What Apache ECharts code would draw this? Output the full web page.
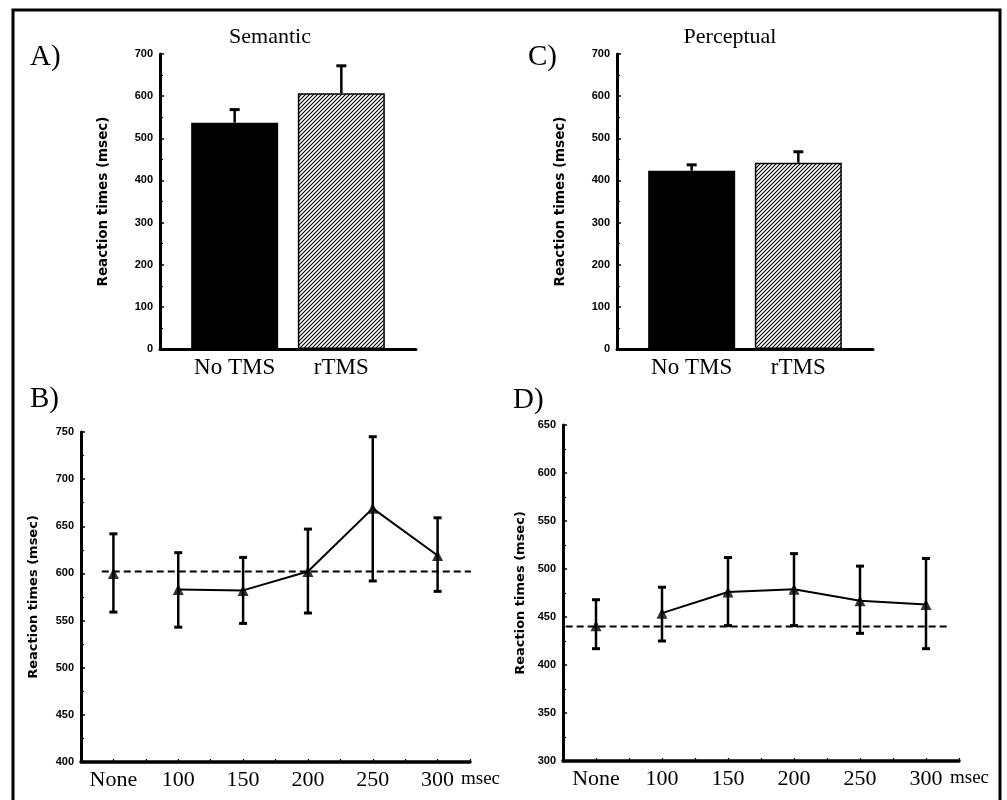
<!DOCTYPE html>
<html>
<head>
<meta charset="utf-8">
<script src="https://cdn.jsdelivr.net/npm/echarts@6/dist/echarts.min.js"></script>
<style>
  html, body { margin: 0; padding: 0; background: #fff; }
  #chart { width: 1007px; height: 800px; }
</style>
</head>
<body>
<div id="chart"></div>
<script>
// top panels: mean RT and upper error cap
var barCategories = ["No TMS", "rTMS"];
var semanticMeans = [537, 607];
var semanticCaps = [568, 672];
var perceptualMeans = [423, 442];
var perceptualCaps = [437, 468];

// bottom panels: RT by TMS onset
var onsetLabels = ["None", "100", "150", "200", "250", "300"];
var semanticOnsetMeans = [600, 583, 582, 602, 669, 619];
var semanticOnsetLow = [559, 543, 547, 558, 592, 581];
var semanticOnsetHigh = [642, 622, 617, 647, 745, 659];
var semanticBaseline = 602;

var perceptualOnsetMeans = [441, 454, 476, 479, 467, 463];
var perceptualOnsetLow = [417, 425, 441, 441, 433, 417];
var perceptualOnsetHigh = [468, 481, 512, 516, 503, 511];
var perceptualBaseline = 440;

var serif = "Liberation Serif";
var sans = "Liberation Sans";

// hatch fill for the rTMS bars
function makeHatch() {
  var c = document.createElement("canvas");
  c.width = 4; c.height = 4;
  var ctx = c.getContext("2d");
  ctx.fillStyle = "#fff";
  ctx.fillRect(0, 0, 4, 4);
  ctx.strokeStyle = "#000";
  ctx.lineWidth = 1.1;
  ctx.beginPath();
  ctx.moveTo(-1, 5); ctx.lineTo(5, -1);
  ctx.moveTo(-1, 1); ctx.lineTo(1, -1);
  ctx.moveTo(3, 5); ctx.lineTo(5, 3);
  ctx.stroke();
  return c;
}
var hatch = { image: makeHatch(), repeat: "repeat" };

function errRender(capW, bottomCap) {
  return function (params, api) {
    var x = api.value(0);
    var lo = api.coord([x, api.value(1)]);
    var hi = api.coord([x, api.value(2)]);
    var st = { stroke: "#000", lineWidth: 2.5 };
    var kids = [
      { type: "line", shape: { x1: lo[0], y1: lo[1], x2: hi[0], y2: hi[1] }, style: st },
      { type: "line", shape: { x1: hi[0] - capW, y1: hi[1], x2: hi[0] + capW, y2: hi[1] }, style: { stroke: "#000", lineWidth: 3 } }
    ];
    if (bottomCap) {
      kids.push({ type: "line", shape: { x1: lo[0] - capW, y1: lo[1], x2: lo[0] + capW, y2: lo[1] }, style: { stroke: "#000", lineWidth: 3 } });
    }
    return { type: "group", children: kids };
  };
}

function yAxisCfg(gridIndex, min, max, interval, nameGap, nameSize) {
  return {
    type: "value", gridIndex: gridIndex, min: min, max: max, interval: interval,
    name: "Reaction times (msec)", nameLocation: "middle", nameGap: nameGap,
    nameTextStyle: { fontFamily: "DejaVu Sans", fontWeight: "bold", fontSize: nameSize, color: "#000" },
    axisLine: { show: true, onZero: false, lineStyle: { color: "#000", width: 3 } },
    axisTick: { show: true, inside: true, length: 4, lineStyle: { color: "#000", width: 1.5 } },
    minorTick: { show: true, splitNumber: 2, length: 3, lineStyle: { color: "#000", width: 1.2 } },
    axisLabel: { fontFamily: sans, fontWeight: "bold", fontSize: 11, color: "#000", margin: 7 },
    splitLine: { show: false }
  };
}

function barXAxis(gridIndex) {
  return {
    type: "value", gridIndex: gridIndex, min: -0.7, max: 1.7, interval: 0.1,
    axisLine: { show: true, onZero: false, lineStyle: { color: "#000", width: 3 } },
    axisTick: { show: false },
    axisLabel: {
      fontFamily: serif, fontSize: 23, color: "#000", margin: 7,
      formatter: function (v) {
        var r = Math.round(v);
        return Math.abs(v - r) < 1e-6 && barCategories[r] ? barCategories[r] : "";
      }
    },
    splitLine: { show: false }
  };
}

function lineXAxis(gridIndex) {
  return {
    type: "value", gridIndex: gridIndex, min: -0.5, max: 5.5, interval: 0.5,
    name: "msec", nameLocation: "end", nameGap: -9,
    nameTextStyle: { fontFamily: serif, fontSize: 19, color: "#000", verticalAlign: "top", padding: [8, 0, 0, 0] },
    axisLine: { show: true, onZero: false, lineStyle: { color: "#000", width: 3.5 } },
    axisTick: { show: true, inside: true, length: 3, lineStyle: { color: "#000", width: 1.2 } },
    axisLabel: {
      fontFamily: serif, fontSize: 22, color: "#000", margin: 7,
      formatter: function (v) {
        var r = Math.round(v);
        return Math.abs(v - r) < 1e-6 && onsetLabels[r] ? onsetLabels[r] : "";
      }
    },
    splitLine: { show: false }
  };
}

function pairs(vals) { return vals.map(function (v, i) { return [i, v]; }); }
function errPairs(lo, hi) { return lo.map(function (v, i) { return [i, v, hi[i]]; }); }

function barSeries(idx, means, caps) {
  return [
    {
      type: "bar", xAxisIndex: idx, yAxisIndex: idx, barWidth: 87,
      data: means.map(function (v, i) {
        return { value: [i, v], itemStyle: { color: i === 0 ? "#000" : hatch, borderColor: "#000", borderWidth: 1.5 } };
      }),
      z: 2
    },
    {
      type: "custom", xAxisIndex: idx, yAxisIndex: idx, renderItem: errRender(5, false),
      data: errPairs(means, caps), z: 1
    }
  ];
}

function onsetSeries(idx, means, lo, hi, baseline, dashFrom, dashTo) {
  return [
    {
      type: "custom", xAxisIndex: idx, yAxisIndex: idx, renderItem: errRender(4, true),
      data: errPairs(lo, hi), z: 2
    },
    {
      type: "line", xAxisIndex: idx, yAxisIndex: idx, showSymbol: false,
      data: pairs(means).slice(1),
      lineStyle: { color: "#000", width: 2 }, z: 3
    },
    {
      type: "scatter", xAxisIndex: idx, yAxisIndex: idx, symbol: "triangle", symbolSize: 11,
      itemStyle: { color: "#000" }, data: pairs(means), z: 4
    },
    {
      type: "line", xAxisIndex: idx, yAxisIndex: idx, showSymbol: false, clip: false,
      data: [[dashFrom, baseline], [dashTo, baseline]],
      lineStyle: { color: "#000", width: 2, type: [7, 4] }, z: 1
    }
  ];
}

var myChart = echarts.init(document.getElementById("chart"));

var letterStyle = { fontFamily: serif, fontSize: 29, fontWeight: "normal", color: "#000" };
var titleStyle = { fontFamily: serif, fontSize: 22, fontWeight: "normal", color: "#000" };

var option = {
  backgroundColor: "#fff",
  animation: false,
  title: [
    { text: "A)", left: 30, top: 43, padding: 0, textStyle: letterStyle },
    { text: "C)", left: 528, top: 43, padding: 0, textStyle: letterStyle },
    { text: "B)", left: 30, top: 385, padding: 0, textStyle: letterStyle },
    { text: "D)", left: 513, top: 386, padding: 0, textStyle: letterStyle },
    { text: "Semantic", left: 270, top: 26, padding: 0, textAlign: "center", textStyle: titleStyle },
    { text: "Perceptual", left: 730, top: 26, padding: 0, textAlign: "center", textStyle: titleStyle }
  ],
  graphic: [
    { type: "rect", shape: { x: 13, y: 10, width: 987, height: 800 }, style: { fill: "none", stroke: "#000", lineWidth: 3 } }
  ],
  grid: [
    { left: 160, top: 54, width: 256, height: 295 },
    { left: 617, top: 54, width: 256, height: 295 },
    { left: 81, top: 432, width: 389, height: 330 },
    { left: 563, top: 425, width: 396, height: 336 }
  ],
  xAxis: [barXAxis(0), barXAxis(1), lineXAxis(2), lineXAxis(3)],
  yAxis: [
    yAxisCfg(0, 0, 700, 100, 50, 13.5),
    yAxisCfg(1, 0, 700, 100, 50, 13.5),
    yAxisCfg(2, 400, 750, 50, 41, 13),
    yAxisCfg(3, 300, 650, 50, 36, 13)
  ],
  series: []
    .concat(barSeries(0, semanticMeans, semanticCaps))
    .concat(barSeries(1, perceptualMeans, perceptualCaps))
    .concat(onsetSeries(2, semanticOnsetMeans, semanticOnsetLow, semanticOnsetHigh, semanticBaseline, -0.18, 5.69))
    .concat(onsetSeries(3, perceptualOnsetMeans, perceptualOnsetLow, perceptualOnsetHigh, perceptualBaseline, -0.46, 5.32))
};

myChart.setOption(option);
</script>
</body>
</html>
